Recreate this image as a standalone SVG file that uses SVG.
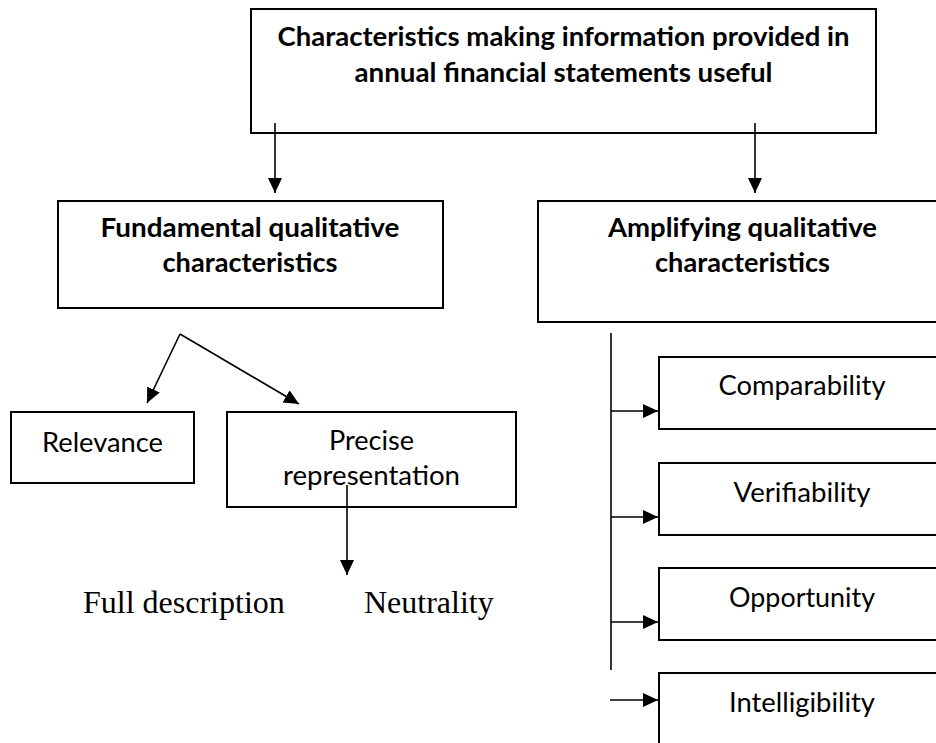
<svg xmlns="http://www.w3.org/2000/svg" width="936" height="743" viewBox="0 0 936 743">
<defs>
<marker id="ah" markerUnits="userSpaceOnUse" markerWidth="16" markerHeight="15" refX="15" refY="7" orient="auto">
<path d="M0,0 L15,7 L0,14 z" fill="#000"/>
</marker>
<style>
.box{fill:#fff;stroke:#000;stroke-width:2}
.b{font-family:Lato,"Open Sans","Liberation Sans",sans-serif;font-weight:700;font-size:26.4px;fill:#000;text-anchor:middle}
.r{font-family:Lato,"Open Sans","Liberation Sans",sans-serif;font-weight:400;font-size:26.4px;fill:#000;text-anchor:middle}
.t{font-family:"Liberation Serif","Times New Roman",serif;font-size:32px;fill:#000}
.c{fill:none;stroke:#000;stroke-width:1.6}
</style>
</defs>
<rect width="936" height="743" fill="#fff"/>
<g id="top">
<rect class="box" x="251" y="9" width="625" height="124"/>
<text class="b" x="563.5" y="46" textLength="572" lengthAdjust="spacingAndGlyphs">Characteristics making information provided in</text>
<text class="b" x="563.5" y="82" textLength="418" lengthAdjust="spacingAndGlyphs">annual financial statements useful</text>
</g>
<g id="fundamental">
<rect class="box" x="58" y="201" width="385" height="107"/>
<text class="b" x="250" y="237" textLength="299" lengthAdjust="spacingAndGlyphs">Fundamental qualitative</text>
<text class="b" x="250" y="272" textLength="175" lengthAdjust="spacingAndGlyphs">characteristics</text>
</g>
<g id="amplifying">
<rect class="box" x="538" y="201" width="420" height="121"/>
<text class="b" x="742.5" y="237" textLength="269" lengthAdjust="spacingAndGlyphs">Amplifying qualitative</text>
<text class="b" x="742.5" y="272" textLength="175" lengthAdjust="spacingAndGlyphs">characteristics</text>
</g>
<g id="relevance">
<rect class="box" x="11" y="412" width="183" height="71"/>
<text class="r" x="102.5" y="452" textLength="121" lengthAdjust="spacingAndGlyphs">Relevance</text>
</g>
<g id="precise">
<rect class="box" x="227" y="412" width="289" height="95"/>
<text class="r" x="371.5" y="450" textLength="85" lengthAdjust="spacingAndGlyphs">Precise</text>
<text class="r" x="371.5" y="485" textLength="177" lengthAdjust="spacingAndGlyphs">representation</text>
</g>
<g id="full-description">
<text class="t" x="83" y="613">Full description</text>
</g>
<g id="neutrality">
<text class="t" x="364" y="613">Neutrality</text>
</g>
<g id="comparability">
<rect class="box" x="659" y="357" width="300" height="72"/>
<text class="r" x="802" y="395" textLength="167" lengthAdjust="spacingAndGlyphs">Comparability</text>
</g>
<g id="verifiability">
<rect class="box" x="659" y="463" width="300" height="72"/>
<text class="r" x="802" y="502" textLength="137" lengthAdjust="spacingAndGlyphs">Verifiability</text>
</g>
<g id="opportunity">
<rect class="box" x="659" y="568" width="300" height="72"/>
<text class="r" x="802" y="607" textLength="146" lengthAdjust="spacingAndGlyphs">Opportunity</text>
</g>
<g id="intelligibility">
<rect class="box" x="659" y="673" width="300" height="80"/>
<text class="r" x="802" y="712" textLength="146" lengthAdjust="spacingAndGlyphs">Intelligibility</text>
</g>
<g id="connectors">
<line class="c" x1="275" y1="123" x2="275" y2="193" marker-end="url(#ah)"/>
<line class="c" x1="755" y1="123" x2="755" y2="193" marker-end="url(#ah)"/>
<line class="c" x1="180" y1="334" x2="147" y2="403" marker-end="url(#ah)"/>
<line class="c" x1="180" y1="334" x2="299" y2="404" marker-end="url(#ah)"/>
<line class="c" x1="347" y1="485" x2="347" y2="575" marker-end="url(#ah)"/>
<line class="c" x1="611" y1="333" x2="611" y2="670"/>
<line class="c" x1="611" y1="411" x2="658" y2="411" marker-end="url(#ah)"/>
<line class="c" x1="611" y1="517" x2="658" y2="517" marker-end="url(#ah)"/>
<line class="c" x1="611" y1="622" x2="658" y2="622" marker-end="url(#ah)"/>
<line class="c" x1="610" y1="700" x2="658" y2="700" marker-end="url(#ah)"/>
</g>
</svg>
